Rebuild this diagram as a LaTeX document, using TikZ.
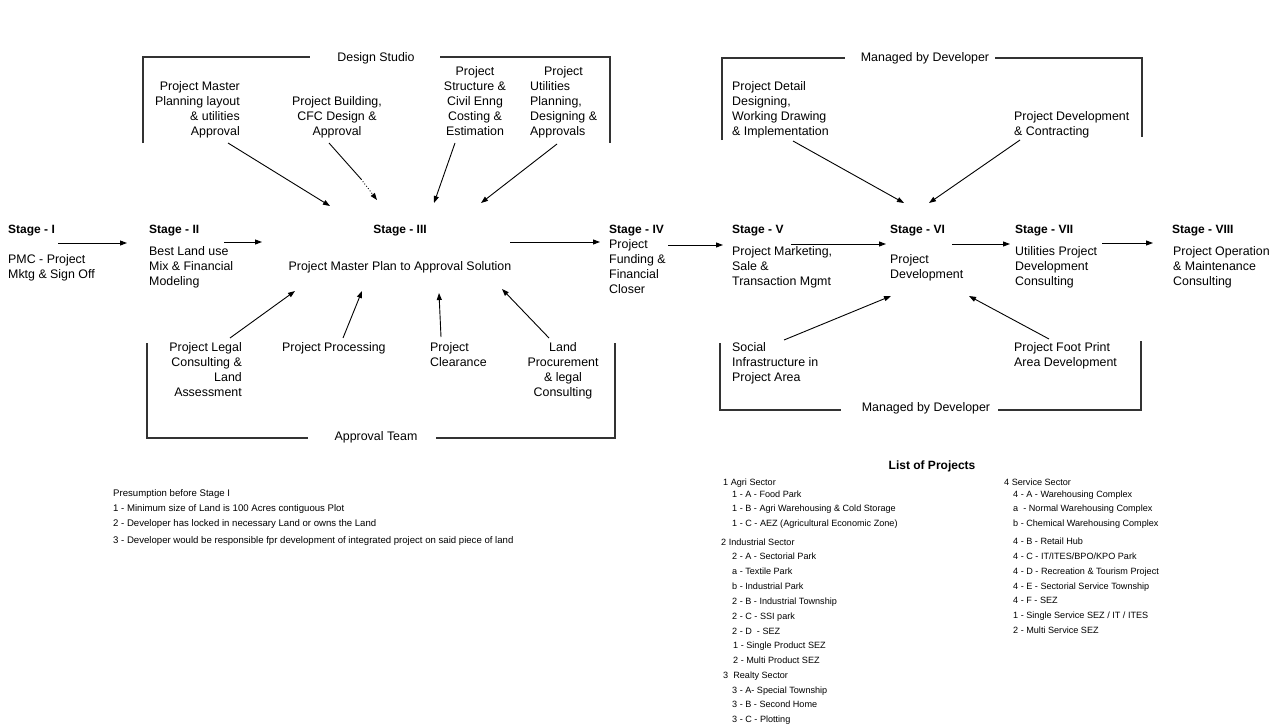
\documentclass[tikz,border=0pt]{standalone}
\usepackage{fontspec}
\setmainfont{Liberation Sans}
\usetikzlibrary{arrows.meta}
\begin{document}
\begin{tikzpicture}[x=1pt,y=-1pt,
  txt/.style={inner sep=0pt, font=\fontsize{12.4}{15}\selectfont},
  stg/.style={inner sep=0pt, anchor=base west, font=\bfseries\fontsize{12}{15}\selectfont},
  lst/.style={inner sep=0pt, anchor=base west, font=\fontsize{9.1}{10}\selectfont},
  pre/.style={inner sep=0pt, anchor=base west, font=\fontsize{9.6}{11}\selectfont},
  arr/.style={-{Triangle[length=7pt,width=5pt]}, line width=0.9pt},
  brk/.style={line width=1.2pt, draw=black!80}]
\useasboundingbox (0,0) rectangle (1281,725);

% ---------- brackets ----------
\node[txt, anchor=base] (ds) at (376,61) {Design Studio};
\coordinate (ds1) at (143,143); \coordinate (ds2) at (143,57); \coordinate (ds3) at (310,57);
\coordinate (ds4) at (440,57); \coordinate (ds5) at (610,57); \coordinate (ds6) at (610,143);
\draw[brk] (ds1) -- (ds2) -- (ds3);
\draw[brk] (ds4) -- (ds5) -- (ds6);

\node[txt, anchor=base] (mdt) at (925,62) {Managed by Developer};
\coordinate (mt1) at (722,140); \coordinate (mt2) at (722,58); \coordinate (mt3) at (845,58);
\coordinate (mt4) at (995,58); \coordinate (mt5) at (1142,58); \coordinate (mt6) at (1142,137);
\draw[brk] (mt1) -- (mt2) -- (mt3);
\draw[brk] (mt4) -- (mt5) -- (mt6);

\node[txt, anchor=base] (at) at (376,440) {Approval Team};
\coordinate (at1) at (147,343); \coordinate (at2) at (147,438); \coordinate (at3) at (308,438);
\coordinate (at4) at (436,438); \coordinate (at5) at (615,438); \coordinate (at6) at (615,343);
\draw[brk] (at1) -- (at2) -- (at3);
\draw[brk] (at4) -- (at5) -- (at6);

\node[txt, anchor=base] (mdb) at (926,411) {Managed by Developer};
\coordinate (mb1) at (720,343); \coordinate (mb2) at (720,410); \coordinate (mb3) at (841,410);
\coordinate (mb4) at (998,410); \coordinate (mb5) at (1141,410); \coordinate (mb6) at (1141,341);
\draw[brk] (mb1) -- (mb2) -- (mb3);
\draw[brk] (mb4) -- (mb5) -- (mb6);

% ---------- stages ----------
\node[stg] (s1) at (8,233) {Stage - I};
\node[txt, anchor=base west, align=left] (t1) at (8,278) {PMC - Project\\Mktg \& Sign Off};
\node[stg] (s2) at (149,233) {Stage - II};
\node[txt, anchor=base west, align=left] (t2) at (149,285) {Best Land use\\Mix \& Financial\\Modeling};
\node[stg, anchor=base] (s3) at (400,233) {Stage - III};
\node[txt, anchor=base] (t3) at (400,270) {Project Master Plan to Approval Solution};
\node[stg] (s4) at (609,233) {Stage - IV};
\node[txt, anchor=base west, align=left] (t4) at (609,293) {Project\\Funding \&\\Financial\\Closer};
\node[stg] (s5) at (732,233) {Stage - V};
\node[txt, anchor=base west, align=left] (t5) at (732,285) {Project Marketing,\\Sale \&\\Transaction Mgmt};
\node[stg] (s6) at (890,233) {Stage - VI};
\node[txt, anchor=base west, align=left] (t6) at (890,278) {Project\\Development};
\node[stg] (s7) at (1015,233) {Stage - VII};
\node[txt, anchor=base west, align=left] (t7) at (1015,285) {Utilities Project\\Development\\Consulting};
\node[stg] (s8) at (1172,233) {Stage - VIII};
\node[txt, anchor=base west, align=left] (t8) at (1173,285) {Project Operation\\\& Maintenance\\Consulting};

\coordinate (e1a) at (58,243);  \coordinate (e1b) at (127,243);
\coordinate (e2a) at (224,242); \coordinate (e2b) at (262,242);
\coordinate (e3a) at (510,242); \coordinate (e3b) at (600,242);
\coordinate (e4a) at (668,245); \coordinate (e4b) at (723,245);
\coordinate (e5a) at (791,244); \coordinate (e5b) at (886,244);
\coordinate (e6a) at (952,244); \coordinate (e6b) at (1010,244);
\coordinate (e7a) at (1102,243); \coordinate (e7b) at (1153,243);
\draw[arr] (e1a) -- (e1b);
\draw[arr] (e2a) -- (e2b);
\draw[arr] (e3a) -- (e3b);
\draw[arr] (e4a) -- (e4b);
\draw[arr] (e5a) -- (e5b);
\draw[arr] (e6a) -- (e6b);
\draw[arr] (e7a) -- (e7b);

% ---------- design studio ----------
\node[txt, anchor=base east, align=right] (d1) at (240,135) {Project Master\\Planning layout\\\& utilities\\Approval};
\node[txt, anchor=base, align=center] (d2) at (337,135) {Project Building,\\CFC Design \&\\Approval};
\node[txt, anchor=base, align=center] (d3) at (475,135) {Project\\Structure \&\\Civil Enng\\Costing \&\\Estimation};
\node[txt, anchor=base west, align=left] (d4) at (530,135) {\hspace*{14pt}Project\\Utilities\\Planning,\\Designing \&\\Approvals};

\coordinate (f1a) at (228,143); \coordinate (f1b) at (330,206);
\coordinate (f2a) at (329,143); \coordinate (f2m) at (361,179); \coordinate (f2b) at (377,200);
\coordinate (f3a) at (455,143); \coordinate (f3b) at (434,203);
\coordinate (f4a) at (557,144); \coordinate (f4b) at (481,203);
\draw[arr] (f1a) -- (f1b);
\draw[line width=0.9pt] (f2a) -- (f2m);
\draw[arr, dotted] (f2m) -- (f2b);
\draw[arr] (f3a) -- (f3b);
\draw[arr] (f4a) -- (f4b);

% ---------- approval team ----------
\node[txt, anchor=base east, align=right] (a1) at (242,396) {Project Legal\\Consulting \&\\Land\\Assessment};
\node[txt, anchor=base west] (a2) at (282,351) {Project Processing};
\node[txt, anchor=base west, align=left] (a3) at (430,366) {Project\\Clearance};
\node[txt, anchor=base, align=center] (a4) at (563,396) {Land\\Procurement\\\& legal\\Consulting};

\coordinate (g1a) at (230,338); \coordinate (g1b) at (295,291);
\coordinate (g2a) at (343,338); \coordinate (g2b) at (362,291);
\coordinate (g3a) at (441,337); \coordinate (g3b) at (439,293);
\coordinate (g4a) at (549,338); \coordinate (g4b) at (502,289);
\draw[arr] (g1a) -- (g1b);
\draw[arr] (g2a) -- (g2b);
\draw[arr] (g3a) -- (g3b);
\draw[arr] (g4a) -- (g4b);

% ---------- managed by developer ----------
\node[txt, anchor=base west, align=left] (m1) at (732,135) {Project Detail\\Designing,\\Working Drawing\\\& Implementation};
\node[txt, anchor=base west, align=left] (m2) at (1014,135) {Project Development\\\& Contracting};
\node[txt, anchor=base west, align=left] (m3) at (732,381) {Social\\Infrastructure in\\Project Area};
\node[txt, anchor=base west, align=left] (m4) at (1014,366) {Project Foot Print\\Area Development};

\coordinate (h1a) at (793,141); \coordinate (h1b) at (904,203);
\coordinate (h2a) at (1020,140); \coordinate (h2b) at (929,203);
\coordinate (h3a) at (784,340); \coordinate (h3b) at (891,296);
\coordinate (h4a) at (1049,339); \coordinate (h4b) at (969,296);
\draw[arr] (h1a) -- (h1b);
\draw[arr] (h2a) -- (h2b);
\draw[arr] (h3a) -- (h3b);
\draw[arr] (h4a) -- (h4b);

% ---------- presumption ----------
\node[pre] (p0) at (113,496) {Presumption before Stage I};
\node[pre] (p1) at (113,511) {1 - Minimum size of Land is 100 Acres contiguous Plot};
\node[pre] (p2) at (113,526) {2 - Developer has locked in necessary Land or owns the Land};
\node[pre] (p3) at (113,543) {3 - Developer would be responsible fpr development of integrated project on said piece of land};

% ---------- list of projects ----------
\node[inner sep=0pt, anchor=base, font=\bfseries\fontsize{12}{15}\selectfont] (lt) at (932,469) {List of Projects};
\node[lst] (c1) at (723,485) {1 Agri Sector};
\node[lst] (c2) at (732,497) {1 - A - Food Park};
\node[lst] (c3) at (732,511) {1 - B - Agri Warehousing \& Cold Storage};
\node[lst] (c4) at (732,526) {1 - C - AEZ (Agricultural Economic Zone)};
\node[lst] (c5) at (721,545) {2 Industrial Sector};
\node[lst] (c6) at (732,559) {2 - A - Sectorial Park};
\node[lst] (c7) at (732,574) {a - Textile Park};
\node[lst] (c8) at (732,589) {b - Industrial Park};
\node[lst] (c9) at (732,604) {2 - B - Industrial Township};
\node[lst] (c10) at (732,619) {2 - C - SSI park};
\node[lst] (c11) at (732,634) {2 - D \ - SEZ};
\node[lst] (c12) at (733,648) {1 - Single Product SEZ};
\node[lst] (c13) at (733,663) {2 - Multi Product SEZ};
\node[lst] (c14) at (723,678) {3 \ Realty Sector};
\node[lst] (c15) at (732,693) {3 - A- Special Township};
\node[lst] (c16) at (732,707) {3 - B - Second Home};
\node[lst] (c17) at (732,722) {3 - C - Plotting};

\node[lst] (k1) at (1004,485) {4 Service Sector};
\node[lst] (k2) at (1013,497) {4 - A - Warehousing Complex};
\node[lst] (k3) at (1013,511) {a \ - Normal Warehousing Complex};
\node[lst] (k4) at (1013,526) {b - Chemical Warehousing Complex};
\node[lst] (k5) at (1013,544) {4 - B - Retail Hub};
\node[lst] (k6) at (1013,559) {4 - C - IT/ITES/BPO/KPO Park};
\node[lst] (k7) at (1013,574) {4 - D - Recreation \& Tourism Project};
\node[lst] (k8) at (1013,589) {4 - E - Sectorial Service Township};
\node[lst] (k9) at (1013,603) {4 - F - SEZ};
\node[lst] (k10) at (1013,618) {1 - Single Service SEZ / IT / ITES};
\node[lst] (k11) at (1013,633) {2 - Multi Service SEZ};
\end{tikzpicture}
\end{document}
